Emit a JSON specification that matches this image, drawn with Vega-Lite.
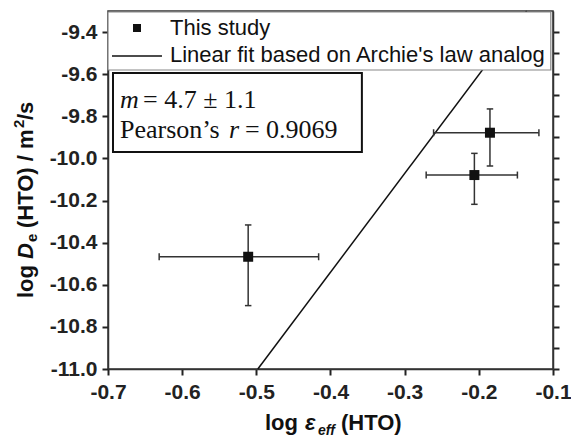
{
  "$schema": "https://vega.github.io/schema/vega-lite/v6.json",
  "width": 445,
  "height": 358,
  "autosize": {"type": "none"},
  "padding": {"left": 108, "top": 11, "right": 18, "bottom": 75},
  "background": "white",
  "datasets": {
    "points": [
      {"series": "This study", "x": -0.511, "y": -10.467, "xlo": -0.631, "xhi": -0.416, "ylo": -10.699, "yhi": -10.316},
      {"series": "This study", "x": -0.185, "y": -9.878, "xlo": -0.261, "xhi": -0.119, "ylo": -10.036, "yhi": -9.765},
      {"series": "This study", "x": -0.206, "y": -10.079, "xlo": -0.271, "xhi": -0.148, "ylo": -10.218, "yhi": -9.976}
    ],
    "fit": [
      {"series": "Linear fit based on Archie's law analog", "x": -0.498, "y": -11.0},
      {"series": "Linear fit based on Archie's law analog", "x": -0.1355, "y": -9.3}
    ]
  },
  "config": {
    "view": {"stroke": "#333", "strokeWidth": 1.5}
  },
  "resolve": {"axis": {"y": "independent"}},
  "layer": [
    {
      "layer": [
        {
          "data": {"name": "fit"},
          "mark": {"type": "line", "color": "#111", "strokeWidth": 1.5},
          "encoding": {
            "x": {"field": "x", "type": "quantitative",
              "scale": {"domain": [-0.7, -0.1], "nice": false, "zero": false},
              "axis": {"title": null, "orient": "bottom", "labelPadding": 6,
                "ticks": true, "domain": true, "grid": false,
                "domainColor": "#333", "domainWidth": 1.5, "tickColor": "#222", "tickWidth": 2, "tickSize": 6,
                "labelFont": "Liberation Sans", "labelFontWeight": "bold", "labelFontSize": 21, "labelColor": "#222",
                "labelFlush": false, "labelOverlap": false,
                "values": [-0.7, -0.65, -0.6, -0.55, -0.5, -0.45, -0.4, -0.35, -0.3, -0.25, -0.2, -0.15, -0.1],
                "labelExpr": "abs(datum.value*10-round(datum.value*10))<0.001 ? replace(format(datum.value,'.1f'),'−','-') : ''"}},
            "y": {"field": "y", "type": "quantitative",
              "scale": {"domain": [-11.0, -9.3], "nice": false, "zero": false},
              "axis": {"title": null, "orient": "left", "labelPadding": 5,
                "ticks": true, "domain": true, "grid": false,
                "domainColor": "#333", "domainWidth": 1.5, "tickColor": "#222", "tickWidth": 2, "tickSize": 6,
                "labelFont": "Liberation Sans", "labelFontWeight": "bold", "labelFontSize": 21, "labelColor": "#222",
                "labelFlush": false, "labelOverlap": false,
                "values": [-11, -10.9, -10.8, -10.7, -10.6, -10.5, -10.4, -10.3, -10.2, -10.1, -10, -9.9, -9.8, -9.7, -9.6, -9.5, -9.4],
                "labelExpr": "abs(datum.value*5-round(datum.value*5))<0.001 ? replace(format(datum.value,'.1f'),'−','-') : ''"}}
          }
        },
        {
          "data": {"values": [{}]},
          "mark": {"type": "rect", "fill": "white", "stroke": "#888", "strokeWidth": 1.2},
          "encoding": {
            "x": {"datum": -0.7, "type": "quantitative", "axis": {"title": null}},
            "x2": {"datum": -0.10296},
            "y": {"datum": -9.30475, "type": "quantitative", "axis": {"title": null}},
            "y2": {"datum": -9.58017}
          }
        },
        {
          "data": {"values": [{}]},
          "mark": {"type": "rule", "color": "#111", "strokeWidth": 1.5},
          "encoding": {
            "x": {"datum": -0.69461, "type": "quantitative", "axis": {"title": null}},
            "x2": {"datum": -0.62722},
            "y": {"datum": -9.51368, "type": "quantitative", "axis": {"title": null}}
          }
        },
        {
          "data": {"values": [{}]},
          "mark": {"type": "point", "shape": "square", "filled": true, "size": 64, "color": "#111", "opacity": 1},
          "encoding": {
            "x": {"datum": -0.66092, "type": "quantitative", "axis": {"title": null}},
            "y": {"datum": -9.38073, "type": "quantitative", "axis": {"title": null}}
          }
        },
        {
          "data": {"values": [{}]},
          "mark": {"type": "text", "text": "This study", "font": "Liberation Sans", "fontSize": 22, "align": "left", "baseline": "alphabetic", "color": "#111"},
          "encoding": {
            "x": {"datum": -0.61644, "type": "quantitative", "axis": {"title": null}},
            "y": {"datum": -9.41397, "type": "quantitative", "axis": {"title": null}}
          }
        },
        {
          "data": {"values": [{}]},
          "mark": {"type": "text", "text": "Linear fit based on Archie's law analog", "font": "Liberation Sans", "fontSize": 22, "align": "left", "baseline": "alphabetic", "color": "#111"},
          "encoding": {
            "x": {"datum": -0.61644, "type": "quantitative", "axis": {"title": null}},
            "y": {"datum": -9.54218, "type": "quantitative", "axis": {"title": null}}
          }
        },
        {
          "data": {"name": "points"},
          "mark": {"type": "rule", "color": "#333", "strokeWidth": 1.5},
          "encoding": {
            "x": {"field": "xlo", "type": "quantitative", "axis": {"title": null}},
            "x2": {"field": "xhi"},
            "y": {"field": "y", "type": "quantitative", "axis": {"title": null}}
          }
        },
        {
          "data": {"name": "points"},
          "mark": {"type": "rule", "color": "#333", "strokeWidth": 1.5},
          "encoding": {
            "x": {"field": "x", "type": "quantitative", "axis": {"title": null}},
            "y": {"field": "ylo", "type": "quantitative", "axis": {"title": null}},
            "y2": {"field": "yhi"}
          }
        },
        {
          "data": {"name": "points"},
          "mark": {"type": "point", "shape": "M0,-1L0,1", "size": 49, "filled": false, "stroke": "#333", "strokeWidth": 1.5, "opacity": 1},
          "encoding": {
            "x": {"field": "xlo", "type": "quantitative", "axis": {"title": null}},
            "y": {"field": "y", "type": "quantitative", "axis": {"title": null}}
          }
        },
        {
          "data": {"name": "points"},
          "mark": {"type": "point", "shape": "M0,-1L0,1", "size": 49, "filled": false, "stroke": "#333", "strokeWidth": 1.5, "opacity": 1},
          "encoding": {
            "x": {"field": "xhi", "type": "quantitative", "axis": {"title": null}},
            "y": {"field": "y", "type": "quantitative", "axis": {"title": null}}
          }
        },
        {
          "data": {"name": "points"},
          "mark": {"type": "point", "shape": "M-1,0L1,0", "size": 42, "filled": false, "stroke": "#333", "strokeWidth": 1.5, "opacity": 1},
          "encoding": {
            "x": {"field": "x", "type": "quantitative", "axis": {"title": null}},
            "y": {"field": "ylo", "type": "quantitative", "axis": {"title": null}}
          }
        },
        {
          "data": {"name": "points"},
          "mark": {"type": "point", "shape": "M-1,0L1,0", "size": 42, "filled": false, "stroke": "#333", "strokeWidth": 1.5, "opacity": 1},
          "encoding": {
            "x": {"field": "x", "type": "quantitative", "axis": {"title": null}},
            "y": {"field": "yhi", "type": "quantitative", "axis": {"title": null}}
          }
        },
        {
          "data": {"name": "points"},
          "mark": {"type": "point", "shape": "square", "filled": true, "size": 100, "color": "#111", "opacity": 1},
          "encoding": {
            "x": {"field": "x", "type": "quantitative", "axis": {"title": null}},
            "y": {"field": "y", "type": "quantitative", "axis": {"title": null}}
          }
        },
        {
          "data": {"values": [{}]},
          "mark": {"type": "rect", "fill": "white", "stroke": "#111", "strokeWidth": 2},
          "encoding": {
            "x": {"datum": -0.69326, "type": "quantitative", "axis": {"title": null}},
            "x2": {"datum": -0.35768},
            "y": {"datum": -9.5944, "type": "quantitative", "axis": {"title": null}},
            "y2": {"datum": -9.9696}
          }
        },
        {
          "data": {"values": [{}]},
          "mark": {"type": "text", "text": "m", "font": "Liberation Serif", "fontStyle": "italic", "fontSize": 26, "align": "left", "baseline": "alphabetic", "color": "#111"},
          "encoding": {
            "x": {"datum": -0.68383, "type": "quantitative", "axis": {"title": null}},
            "y": {"datum": -9.7606, "type": "quantitative", "axis": {"title": null}}
          }
        },
        {
          "data": {"values": [{}]},
          "mark": {"type": "text", "text": "= 4.7 ± 1.1", "font": "Liberation Serif", "fontSize": 26, "align": "left", "baseline": "alphabetic", "color": "#111"},
          "encoding": {
            "x": {"datum": -0.65283, "type": "quantitative", "axis": {"title": null}},
            "y": {"datum": -9.7606, "type": "quantitative", "axis": {"title": null}}
          }
        },
        {
          "data": {"values": [{}]},
          "mark": {"type": "text", "text": "Pearson’s", "font": "Liberation Serif", "fontSize": 26, "align": "left", "baseline": "alphabetic", "color": "#111"},
          "encoding": {
            "x": {"datum": -0.68383, "type": "quantitative", "axis": {"title": null}},
            "y": {"datum": -9.9031, "type": "quantitative", "axis": {"title": null}}
          }
        },
        {
          "data": {"values": [{}]},
          "mark": {"type": "text", "text": "r", "font": "Liberation Serif", "fontStyle": "italic", "fontSize": 26, "align": "left", "baseline": "alphabetic", "color": "#111"},
          "encoding": {
            "x": {"datum": -0.53693, "type": "quantitative", "axis": {"title": null}},
            "y": {"datum": -9.9031, "type": "quantitative", "axis": {"title": null}}
          }
        },
        {
          "data": {"values": [{}]},
          "mark": {"type": "text", "text": "= 0.9069", "font": "Liberation Serif", "fontSize": 26, "align": "left", "baseline": "alphabetic", "color": "#111"},
          "encoding": {
            "x": {"datum": -0.51536, "type": "quantitative", "axis": {"title": null}},
            "y": {"datum": -9.9031, "type": "quantitative", "axis": {"title": null}}
          }
        },
        {
          "data": {"values": [{}]},
          "mark": {"type": "text", "text": "log", "font": "Liberation Sans", "fontWeight": "bold", "fontSize": 22, "align": "left", "baseline": "alphabetic", "color": "#111", "dx": 157, "dy": 61},
          "encoding": {
            "x": {"datum": -0.7, "type": "quantitative", "axis": {"title": null}},
            "y": {"datum": -11.0, "type": "quantitative", "axis": {"title": null}}
          }
        },
        {
          "data": {"values": [{}]},
          "mark": {"type": "text", "text": "ε", "font": "Liberation Sans", "fontWeight": "bold", "fontStyle": "italic", "fontSize": 22, "align": "left", "baseline": "alphabetic", "color": "#111", "dx": 197, "dy": 61},
          "encoding": {
            "x": {"datum": -0.7, "type": "quantitative", "axis": {"title": null}},
            "y": {"datum": -11.0, "type": "quantitative", "axis": {"title": null}}
          }
        },
        {
          "data": {"values": [{}]},
          "mark": {"type": "text", "text": "eff", "font": "Liberation Sans", "fontWeight": "bold", "fontStyle": "italic", "fontSize": 14, "align": "left", "baseline": "alphabetic", "color": "#111", "dx": 210, "dy": 66},
          "encoding": {
            "x": {"datum": -0.7, "type": "quantitative", "axis": {"title": null}},
            "y": {"datum": -11.0, "type": "quantitative", "axis": {"title": null}}
          }
        },
        {
          "data": {"values": [{}]},
          "mark": {"type": "text", "text": "(HTO)", "font": "Liberation Sans", "fontWeight": "bold", "fontSize": 22, "align": "left", "baseline": "alphabetic", "color": "#111", "dx": 233, "dy": 61},
          "encoding": {
            "x": {"datum": -0.7, "type": "quantitative", "axis": {"title": null}},
            "y": {"datum": -11.0, "type": "quantitative", "axis": {"title": null}}
          }
        },
        {
          "data": {"values": [{}]},
          "mark": {"type": "text", "text": "log", "angle": -90, "font": "Liberation Sans", "fontWeight": "bold", "fontSize": 22, "align": "left", "baseline": "alphabetic", "color": "#111", "dx": 71, "dy": -75},
          "encoding": {
            "x": {"datum": -0.7, "type": "quantitative", "axis": {"title": null}},
            "y": {"datum": -11.0, "type": "quantitative", "axis": {"title": null}}
          }
        },
        {
          "data": {"values": [{}]},
          "mark": {"type": "text", "text": "D", "angle": -90, "font": "Liberation Sans", "fontWeight": "bold", "fontStyle": "italic", "fontSize": 22, "align": "left", "baseline": "alphabetic", "color": "#111", "dx": 110, "dy": -75},
          "encoding": {
            "x": {"datum": -0.7, "type": "quantitative", "axis": {"title": null}},
            "y": {"datum": -11.0, "type": "quantitative", "axis": {"title": null}}
          }
        },
        {
          "data": {"values": [{}]},
          "mark": {"type": "text", "text": "e", "angle": -90, "font": "Liberation Sans", "fontWeight": "bold", "fontSize": 15, "align": "left", "baseline": "alphabetic", "color": "#111", "dx": 127, "dy": -71},
          "encoding": {
            "x": {"datum": -0.7, "type": "quantitative", "axis": {"title": null}},
            "y": {"datum": -11.0, "type": "quantitative", "axis": {"title": null}}
          }
        },
        {
          "data": {"values": [{}]},
          "mark": {"type": "text", "text": "(HTO) / m", "angle": -90, "font": "Liberation Sans", "fontWeight": "bold", "fontSize": 22, "align": "left", "baseline": "alphabetic", "color": "#111", "dx": 141, "dy": -75},
          "encoding": {
            "x": {"datum": -0.7, "type": "quantitative", "axis": {"title": null}},
            "y": {"datum": -11.0, "type": "quantitative", "axis": {"title": null}}
          }
        },
        {
          "data": {"values": [{}]},
          "mark": {"type": "text", "text": "2", "angle": -90, "font": "Liberation Sans", "fontWeight": "bold", "fontSize": 15, "align": "left", "baseline": "alphabetic", "color": "#111", "dx": 241, "dy": -84},
          "encoding": {
            "x": {"datum": -0.7, "type": "quantitative", "axis": {"title": null}},
            "y": {"datum": -11.0, "type": "quantitative", "axis": {"title": null}}
          }
        },
        {
          "data": {"values": [{}]},
          "mark": {"type": "text", "text": "/s", "angle": -90, "font": "Liberation Sans", "fontWeight": "bold", "fontSize": 22, "align": "left", "baseline": "alphabetic", "color": "#111", "dx": 249, "dy": -75},
          "encoding": {
            "x": {"datum": -0.7, "type": "quantitative", "axis": {"title": null}},
            "y": {"datum": -11.0, "type": "quantitative", "axis": {"title": null}}
          }
        }
      ]
    },
    {
      "data": {"name": "points"},
      "mark": {"type": "point", "opacity": 0},
      "encoding": {
        "x": {"field": "x", "type": "quantitative", "axis": {"title": null}},
        "y": {"field": "y", "type": "quantitative",
          "axis": {"title": null, "orient": "right", "labels": false, "tickSize": 6,
            "ticks": true, "domain": true, "grid": false,
            "domainColor": "#333", "domainWidth": 1.5, "tickColor": "#222", "tickWidth": 2,
            "values": [-11, -10.9, -10.8, -10.7, -10.6, -10.5, -10.4, -10.3, -10.2, -10.1, -10, -9.9, -9.8, -9.7, -9.6, -9.5, -9.4]}}
      }
    }
  ]
}
